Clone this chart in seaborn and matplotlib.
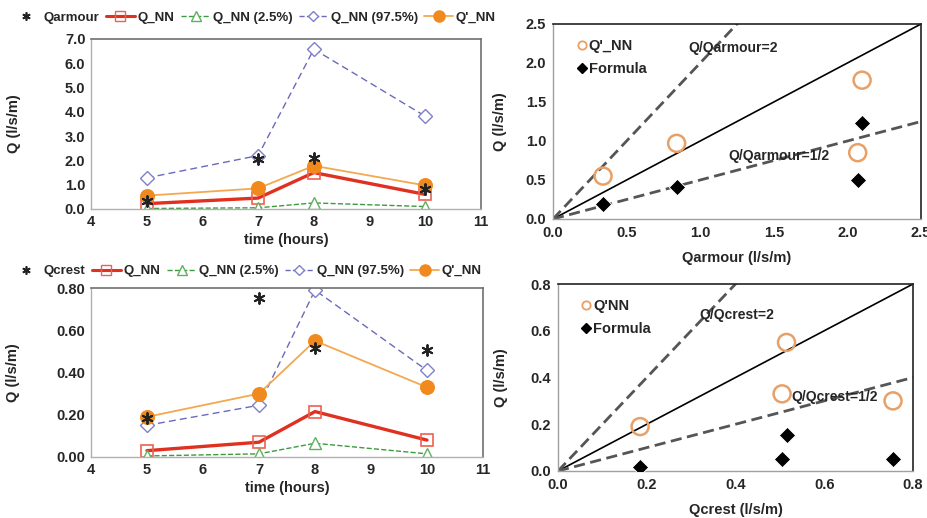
import numpy as np
import pandas as pd
import seaborn as sns
import matplotlib.pyplot as plt
from matplotlib.lines import Line2D

# time axis (hours)
time_h = [5, 7, 8, 10]

# armour data
Qarmour = [0.34, 2.07, 2.10, 0.84]
Qa_NN = [0.22, 0.45, 1.50, 0.60]
Qa_NN_lo = [0.02, 0.05, 0.25, 0.10]
Qa_NN_hi = [1.28, 2.20, 6.58, 3.82]
Qa_NNp = [0.55, 0.85, 1.78, 0.97]
Qa_formula = [0.19, 0.50, 1.23, 0.41]

# crest data
Qcrest = [0.185, 0.755, 0.515, 0.505]
Qc_NN = [0.03, 0.07, 0.215, 0.08]
Qc_NN_lo = [0.005, 0.015, 0.065, 0.015]
Qc_NN_hi = [0.15, 0.245, 0.79, 0.41]
Qc_NNp = [0.19, 0.30, 0.55, 0.33]
Qc_formula = [0.015, 0.05, 0.155, 0.05]

ratios = [1, 2, 0.5]

sns.set_style("white")
plt.rcParams['font.family'] = ['Liberation Sans', 'DejaVu Sans']
plt.rcParams['font.weight'] = 'bold'
plt.rcParams['axes.labelweight'] = 'bold'

RED = '#E03020'
GREEN = '#3E9A3E'
BLUE = '#6A6ABA'
ORANGE_L = '#F4A850'
ORANGE_M = '#F08A1E'
OPEN_C = '#E9A066'
STAR = (6, 2, 0)

fig = plt.figure(figsize=(9.28, 5.18), dpi=100)
W, H = 928, 518
def box(l, t, r, b):
    return [l / W, 1 - b / H, (r - l) / W, (b - t) / H]

ax1 = fig.add_axes(box(91, 39, 481, 209))
ax2 = fig.add_axes(box(553, 24, 921, 219))
ax3 = fig.add_axes(box(91, 288, 483, 457))
ax4 = fig.add_axes(box(558, 284, 913, 471))


def time_panel(ax, qref, qnn, qlo, qhi, qp, refname, ymax, yfmt, legend_y):
    sns.lineplot(x=time_h, y=qnn, ax=ax, color=RED, lw=2.4, marker='s', ms=9,
                 mfc='none', mec='#F06050', mew=1.2, sort=False)
    sns.lineplot(x=time_h, y=qlo, ax=ax, color=GREEN, lw=1.0, ls='--', marker='^', ms=9,
                 mfc='white', mec='#60B060', mew=1.0, sort=False)
    sns.lineplot(x=time_h, y=qhi, ax=ax, color=BLUE, lw=1.0, ls=(0, (5, 3)), marker='D', ms=7,
                 mfc='white', mec='#8080C8', mew=1.0, sort=False)
    sns.lineplot(x=time_h, y=qp, ax=ax, color=ORANGE_L, lw=1.3, marker='o', ms=10,
                 mfc=ORANGE_M, mec=ORANGE_M, sort=False)
    sns.scatterplot(x=time_h, y=qref, ax=ax, marker=STAR, s=60, color='#222222',
                    linewidth=1.4, zorder=5)
    ax.set_xlim(4, 11)
    ax.set_ylim(0, ymax)
    ax.set_xticks(range(4, 12))
    ax.set_yticks(np.linspace(0, ymax, 8 if ymax > 1 else 5))
    ax.yaxis.set_major_formatter(plt.FormatStrFormatter(yfmt))
    ax.set_xlabel('time (hours)', fontsize=10.5, labelpad=3)
    ax.set_ylabel('Q (l/s/m)', fontsize=10.5)
    ax.yaxis.set_label_coords(-0.18, 0.5)
    ax.tick_params(labelsize=10.5, length=0, pad=4)
    for s in ['top', 'right']:
        ax.spines[s].set_color('#707070')
        ax.spines[s].set_linewidth(1.2)
    for s in ['left', 'bottom']:
        ax.spines[s].set_color('#B0B0B0')
        ax.spines[s].set_linewidth(1.0)
    handles = [
        Line2D([], [], ls='none', marker=STAR, ms=6, color='#222222', mew=1.2),
        Line2D([], [], color=RED, lw=2.2, marker='s', ms=7, mfc='none', mec='#F06050'),
        Line2D([], [], color=GREEN, lw=1.0, ls='--', marker='^', ms=7, mfc='white', mec='#60B060'),
        Line2D([], [], color=BLUE, lw=1.0, ls='--', marker='D', ms=5, mfc='white', mec='#8080C8'),
        Line2D([], [], color=ORANGE_L, lw=1.3, marker='o', ms=8, mfc=ORANGE_M, mec=ORANGE_M),
    ]
    labels = [refname, 'Q_NN', 'Q_NN (2.5%)', 'Q_NN (97.5%)', "Q'_NN"]
    fig.legend(handles, labels, loc='center left', bbox_to_anchor=(0.0, legend_y),
               ncol=5, frameon=False, fontsize=9.5, handlelength=2.2,
               handletextpad=0.2, columnspacing=0.5)


time_panel(ax1, Qarmour, Qa_NN, Qa_NN_lo, Qa_NN_hi, Qa_NNp, 'Qarmour', 7.0, '%.1f', 1 - 18 / H)
time_panel(ax3, Qcrest, Qc_NN, Qc_NN_lo, Qc_NN_hi, Qc_NNp, 'Qcrest', 0.80, '%.2f', 1 - 271 / H)


def scatter_panel(ax, qref, qp, qf, lim, xlabel, nnlabel, refname, t2, t05, ylab_x):
    xs = np.array([0, lim])
    for r in ratios:
        if r == 1:
            ax.plot(xs, xs * r, color='black', lw=1.2, zorder=1)
        else:
            ax.plot(xs, xs * r, color='#555555', lw=2.0, ls=(0, (4, 2)), zorder=1)
    sns.scatterplot(x=qref, y=qp, ax=ax, marker='o', s=150, facecolor='none',
                    edgecolor=OPEN_C, linewidth=1.8, zorder=3)
    sns.scatterplot(x=qref, y=qf, ax=ax, marker='D', s=70, color='black', zorder=3)
    ax.set_xlim(0, lim)
    ax.set_ylim(0, lim)
    ax.text(t2[0], t2[1], f'Q/{refname}=2', fontsize=10, fontweight='bold', va='center', zorder=2)
    ax.text(t05[0], t05[1], f'Q/{refname}=1/2', fontsize=10, fontweight='bold', va='center', zorder=2)
    ax.set_xlabel(xlabel, fontsize=10.5, labelpad=8)
    ax.set_ylabel('Q (l/s/m)', fontsize=10.5)
    ax.yaxis.set_label_coords(ylab_x, 0.5)
    ax.tick_params(labelsize=10.5, length=0, pad=5)
    for s in ['top', 'right']:
        ax.spines[s].set_color('#222222')
        ax.spines[s].set_linewidth(1.2)
    for s in ['left', 'bottom']:
        ax.spines[s].set_color('#A0A0A0')
        ax.spines[s].set_linewidth(1.0)
    handles = [
        Line2D([], [], ls='none', marker='o', ms=6, mfc='none', mec=OPEN_C, mew=1.3),
        Line2D([], [], ls='none', marker='D', ms=5, color='black'),
    ]
    ax.legend(handles, [nnlabel, 'Formula'], loc='upper left', bbox_to_anchor=(0.03, 0.99),
              frameon=False, fontsize=10.5, handlelength=0.6, handletextpad=0.2,
              labelspacing=0.6)


scatter_panel(ax2, Qarmour, Qa_NNp, Qa_formula, 2.5, 'Qarmour (l/s/m)', "Q'_NN", 'Qarmour',
              (0.92, 2.19), (1.19, 0.81), -0.125)
scatter_panel(ax4, Qcrest, Qc_NNp, Qc_formula, 0.8, 'Qcrest (l/s/m)', "Q'NN", 'Qcrest',
              (0.318, 0.667), (0.527, 0.317), -0.14)
ax2.set_xticks(np.arange(0, 2.51, 0.5))
ax2.set_yticks(np.arange(0, 2.51, 0.5))
ax2.xaxis.set_major_formatter(plt.FormatStrFormatter('%.1f'))
ax2.yaxis.set_major_formatter(plt.FormatStrFormatter('%.1f'))
ax4.set_xticks(np.arange(0, 0.81, 0.2))
ax4.set_yticks(np.arange(0, 0.81, 0.2))
ax4.xaxis.set_major_formatter(plt.FormatStrFormatter('%.1f'))
ax4.yaxis.set_major_formatter(plt.FormatStrFormatter('%.1f'))

fig.savefig('out.png', dpi=100)
